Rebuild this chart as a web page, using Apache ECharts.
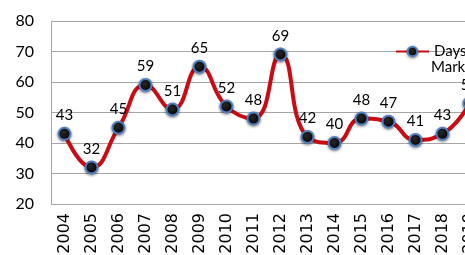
<!DOCTYPE html>
<html>
<head>
<meta charset="utf-8">
<script src="https://cdn.jsdelivr.net/npm/echarts@6/dist/echarts.min.js"></script>
<style>
  html, body { margin: 0; padding: 0; background: #ffffff; }
  #chart { width: 465px; height: 255px; }
</style>
</head>
<body>
<div id="chart"></div>
<script>
  // years on the x axis
  const years = ['2004', '2005', '2006', '2007', '2008', '2009', '2010', '2011',
    '2012', '2013', '2014', '2015', '2016', '2017', '2018', '2019'];
  // days on market per year
  const daysOnMarket = [43, 32, 45, 59, 51, 65, 52, 48, 69, 42, 40, 48, 47, 41, 43, 53];
  const seriesName = 'Days on Market';

  const chart = echarts.init(document.getElementById('chart'));

  const markerStyle = {
    color: new echarts.graphic.RadialGradient(0.4, 0.35, 0.7, [
      {offset: 0, color: '#2a2a2a'},
      {offset: 1, color: '#000000'}
    ]),
    borderColor: '#4f7fc0',
    borderWidth: 2,
    shadowBlur: 3,
    shadowColor: 'rgba(0,0,0,0.45)',
    shadowOffsetY: 1
  };

  chart.setOption({
    backgroundColor: '#ffffff',
    animation: false,
    grid: {
      left: 51,
      top: 21,
      height: 183,
      width: 432,
      outerBoundsMode: 'none',
      containLabel: false
    },
    legend: {
      left: 395,
      top: 44,
      padding: 0,
      itemWidth: 33,
      itemHeight: 12,
      data: [{name: seriesName, itemStyle: markerStyle}],
      // second word goes on its own line below (graphic text)
      formatter: function () { return 'Days on'; },
      textStyle: {
        fontFamily: 'Lato',
        fontSize: 15,
        color: '#000',
        width: 30,
        overflow: 'none'
      }
    },
    graphic: [{
      type: 'text',
      left: 431,
      top: 60,
      style: {
        text: 'Market',
        fontFamily: 'Lato',
        fontSize: 15,
        fill: '#000'
      }
    }],
    xAxis: {
      type: 'category',
      data: years,
      boundaryGap: true,
      axisLine: {show: false},
      axisTick: {show: false},
      axisLabel: {
        rotate: 90,
        margin: 9,
        fontFamily: 'DejaVu Sans',
        fontSize: 16,
        color: '#000'
      }
    },
    yAxis: {
      type: 'value',
      min: 20,
      max: 80,
      interval: 10,
      axisLine: {show: true, lineStyle: {color: '#a6a6a6', width: 1}},
      axisTick: {show: false},
      axisLabel: {
        margin: 17,
        fontFamily: 'Lato',
        fontSize: 16,
        color: '#000'
      },
      splitLine: {lineStyle: {color: '#a6a6a6', width: 1}}
    },
    series: [{
      name: seriesName,
      type: 'line',
      data: daysOnMarket,
      smooth: 0.5,
      symbol: 'circle',
      symbolSize: 12,
      lineStyle: {color: '#cc0a14', width: 4},
      itemStyle: markerStyle,
      label: {
        show: true,
        position: 'top',
        distance: 4,
        fontFamily: 'Lato',
        fontSize: 15,
        color: '#000'
      },
      z: 3
    }]
  });
</script>
</body>
</html>
